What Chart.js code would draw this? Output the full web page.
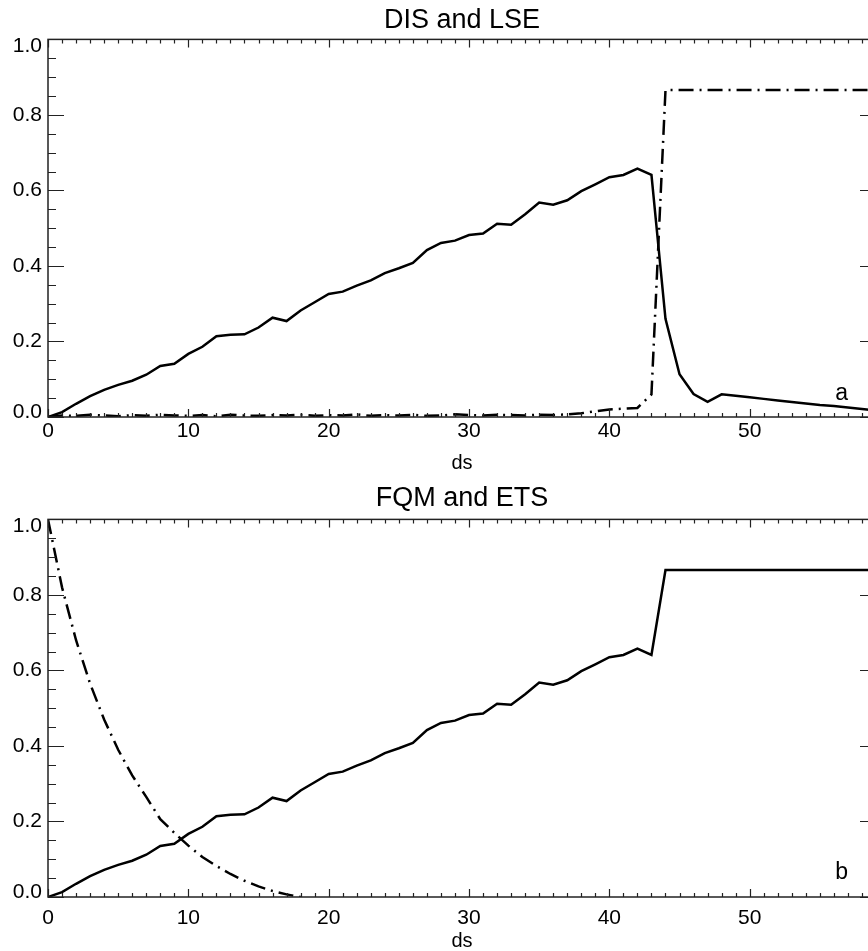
<!DOCTYPE html>
<html><head><meta charset="utf-8">
<script src="https://cdn.jsdelivr.net/npm/chart.js@4/dist/chart.umd.min.js"></script>
<style>
html,body{margin:0;padding:0;background:#fff;}
.wrap{width:868px;overflow:hidden;position:relative;}
canvas{display:block;}
</style></head><body>
<div class="wrap" style="height:475px"><canvas id="c1" width="880" height="475"></canvas></div>
<div class="wrap" style="height:476px"><canvas id="c2" width="880" height="476"></canvas></div>
<script>
// ---- data ----
const ds = [0,1,2,3,4,5,6,7,8,9,10,11,12,13,14,15,16,17,18,19,20,21,22,23,24,25,26,27,28,29,30,31,32,33,34,35,36,37,38,39,40,41,42,43,44,45,46,47,48,49,50,51,52,53,54,55,56,57,58,59];
const dis = [0.000,0.013,0.035,0.055,0.072,0.085,0.096,0.112,0.135,0.141,
             0.167,0.186,0.214,0.218,0.219,0.237,0.263,0.254,0.282,0.304,
             0.326,0.332,0.348,0.362,0.381,0.394,0.408,0.442,0.461,0.467,
             0.482,0.486,0.512,0.509,0.537,0.568,0.562,0.574,0.598,0.616,
             0.635,0.641,0.658,0.641,0.260,0.113,0.061,0.040,0.060,0.056,
             0.052,0.048,0.044,0.040,0.036,0.032,0.029,0.025,0.021,0.017];
const lse = [0.000,0.004,0.003,0.006,0.004,0.002,0.005,0.003,0.006,0.004,
             0.003,0.005,0.002,0.006,0.004,0.003,0.005,0.004,0.006,0.003,
             0.005,0.004,0.007,0.003,0.005,0.004,0.006,0.003,0.004,0.007,
             0.005,0.004,0.006,0.005,0.004,0.006,0.005,0.007,0.010,0.015,
             0.020,0.022,0.024,0.060,0.866,0.866,0.866,0.866,0.866,0.866,
             0.866,0.866,0.866,0.866,0.866,0.866,0.866,0.866,0.866,0.866];
const fqm = [0.000,0.013,0.035,0.055,0.072,0.085,0.096,0.112,0.135,0.141,
             0.167,0.186,0.214,0.218,0.219,0.237,0.263,0.254,0.282,0.304,
             0.326,0.332,0.348,0.362,0.381,0.394,0.408,0.442,0.461,0.467,
             0.482,0.486,0.512,0.509,0.537,0.568,0.562,0.574,0.598,0.616,
             0.635,0.641,0.658,0.641,0.866,0.866,0.866,0.866,0.866,0.866,
             0.866,0.866,0.866,0.866,0.866,0.866,0.866,0.866,0.866,0.866];
const ets = [1.000,0.820,0.680,0.565,0.470,0.390,0.322,0.265,0.206,0.170,
             0.136,0.106,0.082,0.061,0.043,0.028,0.016,0.007,0.000];
const xTicks = [0,10,20,30,40,50];
const yTicks = [0,0.2,0.4,0.6,0.8,1.0];
const X_MIN = 0, X_MAX = 59, Y_MIN = 0, Y_MAX = 1;

const FONT = '"Liberation Sans", Arial, Helvetica, sans-serif';
Chart.defaults.font.family = FONT;
Chart.defaults.color = '#000';

const pts = (vals) => vals.map((v, i) => ({x: ds[i], y: v}));

// frame, inward ticks on all four sides, panel letter, end-label nudges
const framePlugin = {
  id: 'frame',
  beforeDraw(chart) {
    const items = chart.scales.y.getLabelItems();
    if (items.length) {
      items[0].options.translation[1] -= 5;
      items[items.length - 1].options.translation[1] += 7;
    }
  },
  afterDraw(chart, args, opts) {
    const {ctx, chartArea: a, scales: {x, y}} = chart;
    ctx.save();
    ctx.strokeStyle = '#222';
    ctx.lineWidth = 1.5;
    ctx.strokeRect(a.left, a.top, a.right - a.left, a.bottom - a.top);
    ctx.lineWidth = 1.2;
    ctx.beginPath();
    for (let v = X_MIN; v <= X_MAX; v++) {
      const px = Math.round(x.getPixelForValue(v)) + 0.5;
      const len = v % 10 === 0 ? 8 : 4;
      ctx.moveTo(px, a.bottom); ctx.lineTo(px, a.bottom - len);
      ctx.moveTo(px, a.top); ctx.lineTo(px, a.top + len);
    }
    for (let k = 0; k <= 20; k++) {
      const py = Math.round(y.getPixelForValue(k * 0.05)) + 0.5;
      const len = k % 4 === 0 ? 16 : 8;
      ctx.moveTo(a.left, py); ctx.lineTo(a.left + len, py);
      ctx.moveTo(a.right, py); ctx.lineTo(a.right - len, py);
    }
    ctx.stroke();
    ctx.fillStyle = '#000';
    ctx.font = '23px ' + FONT;
    ctx.textAlign = 'right';
    ctx.textBaseline = 'alphabetic';
    ctx.fillText(opts.letter, a.right - 28, a.bottom - opts.letterUp);
    ctx.restore();
  }
};

function makeChart(id, title, solid, solidLabel, dashed, dashedLabel, cfg) {
  return new Chart(document.getElementById(id), {
    type: 'line',
    data: {
      datasets: [
        {label: solidLabel, data: pts(solid), borderColor: '#000', borderWidth: 2.5,
         pointRadius: 0, tension: 0, fill: false},
        {label: dashedLabel, data: pts(dashed), borderColor: '#000', borderWidth: 2.5,
         borderDash: [15, 6, 2, 6], pointRadius: 0, tension: 0, fill: false}
      ]
    },
    options: {
      responsive: false, animation: false, devicePixelRatio: 1,
      layout: {padding: {top: 0, right: 4, left: 0, bottom: 0}},
      plugins: {
        legend: {display: false},
        tooltip: {enabled: false},
        title: {display: true, text: title, fullSize: false, color: '#000',
                font: {size: 27, weight: 'normal'}, padding: cfg.titlePad},
        frame: {letter: cfg.letter, letterUp: cfg.letterUp}
      },
      scales: {
        x: {
          type: 'linear', min: X_MIN, max: X_MAX,
          afterFit: s => { s.height = cfg.xHeight; },
          afterBuildTicks: s => { s.ticks = xTicks.map(v => ({value: v})); },
          grid: {display: false, drawTicks: false, tickLength: 0}, border: {display: false},
          ticks: {font: {size: 21}, color: '#000', padding: cfg.xTickPad, maxRotation: 0,
                  autoSkip: false, callback: v => String(v)},
          title: {display: true, text: 'ds', color: '#000',
                  font: {size: 20, lineHeight: 1}, padding: {top: 0, bottom: cfg.dsPad}}
        },
        y: {
          type: 'linear', min: Y_MIN, max: Y_MAX,
          afterFit: s => { s.width = 48; },
          afterBuildTicks: s => { s.ticks = yTicks.map(v => ({value: v})); },
          grid: {display: false, drawTicks: false, tickLength: 0}, border: {display: false},
          ticks: {font: {size: 21}, color: '#000', padding: 6, autoSkip: false,
                  callback: v => Number(v).toFixed(1)}
        }
      }
    },
    plugins: [framePlugin]
  });
}

makeChart('c1', 'DIS and LSE', dis, 'DIS', lse, 'LSE',
  {titlePad: {top: 4, bottom: 3}, xHeight: 58, xTickPad: 2, dsPad: 2, letter: 'a', letterUp: 17});
makeChart('c2', 'FQM and ETS', fqm, 'FQM', ets, 'ETS',
  {titlePad: {top: 7, bottom: 5}, xHeight: 54, xTickPad: 9, dsPad: 0, letter: 'b', letterUp: 18});
</script>
</body></html>
